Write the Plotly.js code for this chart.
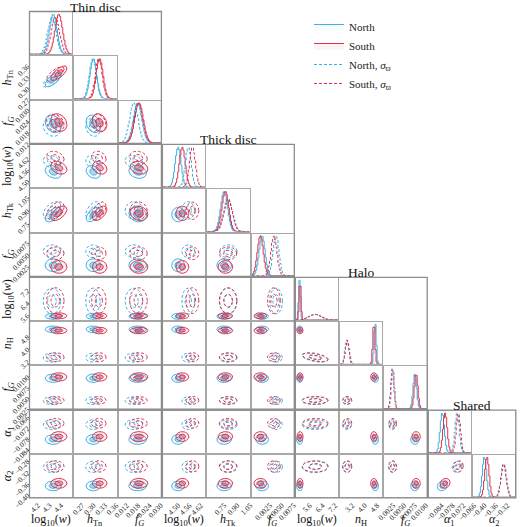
<!DOCTYPE html>
<html><head><meta charset="utf-8">
<script src="https://cdn.plot.ly/plotly-3.0.1.min.js"></script>
<style>body{margin:0;background:#fff}#chart{width:520px;height:527px}</style>
</head><body><div id="chart"></div>
<script>
// ---------------- data ----------------
const paramLabels = ['log<sub>10</sub>(<i>w</i>)', '<i>h</i><sub>Tn</sub>', '<i>f</i><sub><i>G</i></sub>',
  'log<sub>10</sub>(<i>w</i>)', '<i>h</i><sub>Tk</sub>', '<i>f</i><sub><i>G</i></sub>',
  'log<sub>10</sub>(<i>w</i>)', '<i>n</i><sub>H</sub>', '<i>f</i><sub><i>G</i></sub>',
  '<i>α</i><sub>1</sub>', '<i>α</i><sub>2</sub>'];
const groupNames = ['Thin disc', 'Thick disc', 'Halo', 'Shared'];
const groupStart = [0, 3, 6, 9];
const groupEnd = [2, 5, 8, 10];
const rangeLo = [4.167, 0.2593, 0.00975, 4.442, 0.602, -0.00053, 4.973, 2.685, 0.00137, -0.0889, -0.4259];
const rangeHi = [4.531, 0.3717, 0.03225, 4.664, 1.086, 0.00837, 7.640, 5.395, 0.01117, -0.0655, -0.2779];
const tickVals = [[4.2, 4.3, 4.4], [0.27, 0.30, 0.33, 0.36], [0.012, 0.018, 0.024, 0.030], [4.50, 4.56, 4.62],
  [0.75, 0.90, 1.05], [0.0025, 0.0050, 0.0075], [5.6, 6.4, 7.2], [3.2, 4.0, 4.8],
  [0.0025, 0.0050, 0.0075, 0.0100], [-0.084, -0.078, -0.072, -0.066], [-0.40, -0.36, -0.32, -0.28]];
const tickFormats = ['.1f', '.2f', '.3f', '.2f', '.2f', '.4f', '.1f', '.1f', '.4f', '.3f', '.2f'];

// posterior summaries (mean, standard deviation)
const meanNorth    = [4.367, 0.3099, 0.0199, 4.522, 0.796, 0.00170, 5.213, 4.934, 0.00843, -0.0814, -0.386];
const meanSouth    = [4.415, 0.3267, 0.0206, 4.544, 0.810, 0.00134, 5.240, 4.853, 0.00872, -0.0798, -0.377];
const meanNorthPlx = [4.356, 0.3088, 0.0179, 4.575, 0.844, 0.00463, 6.173, 3.119, 0.00323, -0.0732, -0.3193];
const meanSouthPlx = [4.385, 0.3245, 0.0203, 4.597, 0.840, 0.00419, 6.200, 3.146, 0.00330, -0.0725, -0.318];
const sdNorth      = [0.033, 0.009, 0.00225, 0.0155, 0.039, 0.00062, 0.053, 0.068, 0.00039, 0.00117, 0.0074];
const sdSouth      = [0.033, 0.009, 0.00225, 0.0155, 0.039, 0.00062, 0.053, 0.068, 0.00039, 0.00117, 0.0074];
const sdNorthPlx   = [0.036, 0.009, 0.00225, 0.0155, 0.048, 0.00062, 0.40, 0.12, 0.00034, 0.00117, 0.009];
const sdSouthPlx   = [0.036, 0.009, 0.00225, 0.0155, 0.048, 0.00062, 0.40, 0.12, 0.00034, 0.00117, 0.009];
// correlations [row, col, rho]
const corrSolid = [[1,0,0.7],[2,0,-0.25],[2,1,-0.25],[3,0,-0.3],[3,1,-0.25],[3,2,-0.2],[4,0,0.55],[4,1,0.55],[4,2,-0.15],[10,9,0.15]];
const corrPlx   = [[1,0,0.7],[2,0,-0.2],[2,1,-0.2],[3,0,-0.25],[3,1,-0.2],[3,2,-0.2],[4,0,0.5],[4,1,0.5],[7,6,-0.5],[10,9,0.1]];

// ---------------- styling ----------------
const FONT = 'Liberation Serif, DejaVu Serif, serif';
const BLUE = '#3fb0e0', RED = '#dc3450';
const W = 520, H = 527, LEFT = 30, TOP = 12, STEP = 44.3, SIZE = 42.3;
const NB = 40, SMOOTH = 0.03;

const series = [
  {name: 'North', mean: meanNorth, sd: sdNorth, color: BLUE, rgb: '63,176,224', dash: 'solid', corr: corrSolid},
  {name: 'South', mean: meanSouth, sd: sdSouth, color: RED, rgb: '220,52,80', dash: 'solid', corr: corrSolid},
  {name: 'North, <i>σ</i><sub>ϖ</sub>', mean: meanNorthPlx, sd: sdNorthPlx, color: BLUE, rgb: '63,176,224', dash: '3px,2px', corr: corrPlx},
  {name: 'South, <i>σ</i><sub>ϖ</sub>', mean: meanSouthPlx, sd: sdSouthPlx, color: RED, rgb: '220,52,80', dash: '3px,2px', corr: corrPlx}
];
const NP = paramLabels.length;

function erf(x) {
  const s = x < 0 ? -1 : 1; x = Math.abs(x);
  const t = 1 / (1 + 0.3275911 * x);
  const y = 1 - (((((1.061405429 * t - 1.453152027) * t) + 1.421413741) * t - 0.284496736) * t + 0.254829592) * t * Math.exp(-x * x);
  return s * y;
}
function cdf(x, m, s) { return 0.5 * (1 + erf((x - m) / (s * Math.SQRT2))); }
function getRho(list, r, c) { for (const e of list) if (e[0] === r && e[1] === c) return e[2]; return 0; }
function ellipse(mx, my, sx, sy, rho, rad) {
  const xs = [], ys = [];
  for (let i = 0; i <= 80; i++) {
    const t = 2 * Math.PI * i / 80, a = Math.cos(t), b = Math.sin(t);
    xs.push(mx + rad * sx * a);
    ys.push(my + rad * sy * (rho * a + Math.sqrt(1 - rho * rho) * b));
  }
  return [xs, ys];
}
function xdom(c) { const x0 = LEFT + c * STEP; return [x0 / W, (x0 + SIZE) / W]; }
function ydom(r) { const y0 = TOP + r * STEP; return [1 - (y0 + SIZE) / H, 1 - y0 / H]; }

const traces = [];
const layout = {
  width: W, height: H, margin: {l: 0, r: 0, t: 0, b: 0},
  paper_bgcolor: '#fff', plot_bgcolor: '#fff', showlegend: true,
  legend: {x: 309 / W, y: 1 - 12 / H, xanchor: 'left', yanchor: 'top', font: {family: FONT, size: 11, color: '#222'},
    bgcolor: 'rgba(0,0,0,0)', tracegroupgap: 0, itemwidth: 30},
  annotations: [], shapes: []
};
const axBase = {showgrid: false, zeroline: false, showline: true, mirror: true, linecolor: '#a8a8a8', linewidth: 1,
  ticks: '', tickfont: {family: FONT, size: 7.5, color: '#222'}, tickangle: -45, fixedrange: true};

let k = 0;
const legendDone = [false, false, false, false];
for (let r = 0; r < NP; r++) {
  for (let c = 0; c <= r; c++) {
    k++;
    const xa = 'x' + k, ya = 'y' + k;
    const xkey = 'xaxis' + (k === 1 ? '' : k), ykey = 'yaxis' + (k === 1 ? '' : k);
    const xAx = Object.assign({}, axBase, {domain: xdom(c), anchor: ya, range: [rangeLo[c], rangeHi[c]],
      tickvals: tickVals[c], tickformat: tickFormats[c], showticklabels: r === NP - 1, ticklabelshift: 4});
    const yAx = Object.assign({}, axBase, {domain: ydom(r), anchor: xa});
    if (r === c) {
      // diagonal histogram
      const lo = rangeLo[c], hi = rangeHi[c], bw = (hi - lo) / NB;
      let ymax = 0;
      series.forEach((s, si) => {
        const xs = [lo], ys = [0];
        for (let b = 0; b < NB; b++) {
          const e0 = lo + b * bw, e1 = e0 + bw;
          const d = (cdf(e1, s.mean[c], s.sd[c]) - cdf(e0, s.mean[c], s.sd[c])) / bw;
          xs.push(e0); ys.push(d); if (d > ymax) ymax = d;
        }
        xs.push(hi); ys.push(0);
        traces.push({type: 'scatter', mode: 'lines', x: xs, y: ys, xaxis: xa, yaxis: ya, line: {color: s.color, width: 1, dash: s.dash, shape: 'hv'},
          showlegend: false, hoverinfo: 'skip'});
      });
      Object.assign(yAx, {range: [0, ymax * 1.06], showticklabels: false});
    } else {
      Object.assign(yAx, {range: [rangeLo[r], rangeHi[r]], tickvals: tickVals[r], tickformat: tickFormats[r],
        showticklabels: c === 0, ticklabelshift: 5});
      series.forEach((s, si) => {
        const sx = Math.sqrt(s.sd[c] ** 2 + (SMOOTH * (rangeHi[c] - rangeLo[c])) ** 2);
        const sy = Math.sqrt(s.sd[r] ** 2 + (SMOOTH * (rangeHi[r] - rangeLo[r])) ** 2);
        const rho = getRho(s.corr, r, c);
        const solid = s.dash === 'solid';
        [2, 1].forEach(rad => {
          const [ex, ey] = ellipse(s.mean[c], s.mean[r], sx, sy, rho, rad);
          const showL = !legendDone[si] && rad === 2;
          if (showL) legendDone[si] = true;
          traces.push({type: 'scatter', mode: 'lines', x: ex, y: ey, xaxis: xa, yaxis: ya,
            line: {color: s.color, width: 1, dash: s.dash},
            fill: solid ? 'toself' : 'none',
            fillcolor: solid ? ('rgba(' + s.rgb + ',' + (rad === 1 ? 0.4 : 0.06) + ')') : undefined,
            name: s.name, legendgroup: s.name, showlegend: showL, hoverinfo: 'skip'});
        });
      });
    }
    layout[xkey] = xAx; layout[ykey] = yAx;
  }
}

// group boxes
for (let gi = 0; gi < 4; gi++) {
  for (let gj = 0; gj <= gi; gj++) {
    const x0 = LEFT + groupStart[gj] * STEP - 0.5, x1 = LEFT + groupEnd[gj] * STEP + SIZE + 0.5;
    const y0 = TOP + groupStart[gi] * STEP - 0.5, y1 = TOP + groupEnd[gi] * STEP + SIZE + 0.5;
    layout.shapes.push({type: 'rect', xref: 'paper', yref: 'paper', x0: x0 / W, x1: x1 / W, y0: 1 - y1 / H, y1: 1 - y0 / H,
      line: {color: '#8c8c8c', width: 1.3}, fillcolor: 'rgba(0,0,0,0)'});
  }
  const cx = (LEFT + groupStart[gi] * STEP + LEFT + groupEnd[gi] * STEP + SIZE) / 2;
  const ty = TOP + groupStart[gi] * STEP - 5;
  layout.annotations.push({xref: 'paper', yref: 'paper', x: cx / W, y: 1 - ty / H, text: groupNames[gi], showarrow: false,
    xanchor: 'center', yanchor: 'middle', font: {family: FONT, size: 13.5, color: '#111'}});
}
// axis labels
for (let i = 0; i < NP; i++) {
  const cx = LEFT + i * STEP + SIZE / 2;
  layout.annotations.push({xref: 'paper', yref: 'paper', x: cx / W, y: 1 - 520 / H, text: paramLabels[i], showarrow: false,
    xanchor: 'center', yanchor: 'middle', font: {family: FONT, size: 12, color: '#111'}});
  if (i > 0) {
    const cy = TOP + i * STEP + SIZE / 2;
    layout.annotations.push({xref: 'paper', yref: 'paper', x: 8 / W, y: 1 - cy / H, text: paramLabels[i], showarrow: false,
      textangle: -90, xanchor: 'center', yanchor: 'middle', font: {family: FONT, size: 12, color: '#111'}});
  }
}

Plotly.newPlot('chart', traces, layout, {staticPlot: true, displayModeBar: false});
</script></body></html>
